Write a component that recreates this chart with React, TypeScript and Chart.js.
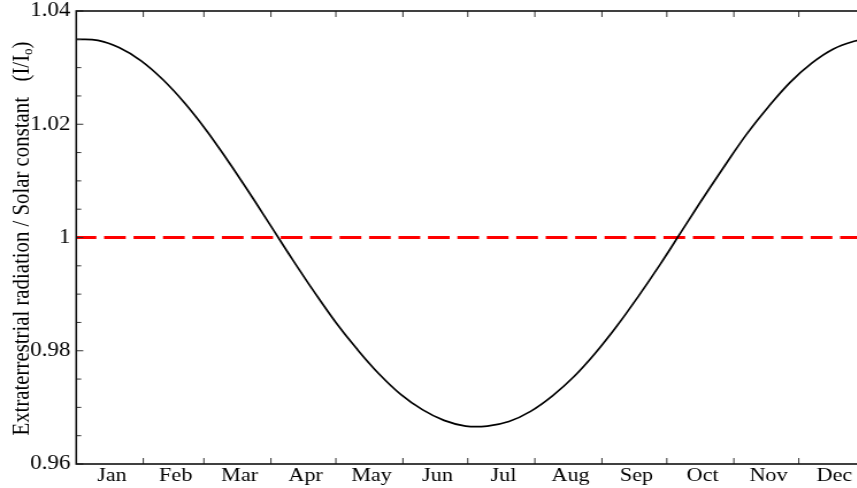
import React, { useEffect, useRef } from "react";
import { Chart, registerables } from "chart.js";

Chart.register(...registerables);

// Day of year (0-based) and ratio
const DAYS = [0, 10, 20, 30, 40, 50, 60, 70, 80, 90, 100, 110, 120, 130, 140, 150, 160, 170, 180, 190, 200, 210, 220, 230, 240, 250, 260, 270, 280, 290, 300, 310, 320, 330, 340, 350, 360, 365];
const RATIO = [1.035, 1.0348, 1.0335, 1.0312, 1.0279, 1.0238, 1.019, 1.0136, 1.0079, 1.002, 0.9961, 0.9904, 0.985, 0.9802, 0.9759, 0.9723, 0.9696, 0.9677, 0.9667, 0.9667, 0.9675, 0.9693, 0.972, 0.9754, 0.9796, 0.9844, 0.9897, 0.9953, 1.0012, 1.0071, 1.0128, 1.0183, 1.0231, 1.0274, 1.0308, 1.0333, 1.0347, 1.035];

const REF_DAYS = [0, 365];
const REF_VALUES = [1, 1];

const MONTHS = ["Jan", "Feb", "Mar", "Apr", "May", "Jun", "Jul", "Aug", "Sep", "Oct", "Nov", "Dec"];
const LABEL_DAYS = [16.5, 46, 75.5, 106, 136.5, 167, 197.5, 228.5, 259, 289.5, 320, 350.5];
const MONTH_BOUNDARIES = [31, 59, 90, 120, 151, 181, 212, 243, 273, 304, 334];

const Y_MAJOR = [0.96, 0.98, 1, 1.02, 1.04];
const Y_MINOR = [0.965, 0.97, 0.975, 0.985, 0.99, 0.995, 1.005, 1.01, 1.015, 1.025, 1.03, 1.035];

const Y_TITLE_MAIN = "Extraterrestrial radiation / Solar constant   (I/I";
const Y_TITLE_SUB = "o";
const Y_TITLE_END = ")";

const SX = 1.15;
const CW = 760;
const CH = 488;
const FONT = "'Liberation Serif', 'Times New Roman', serif";

const framePlugin = {
  id: "frameTicks",
  afterDatasetsDraw(chart: any) {
    const { ctx, chartArea: a, scales } = chart;
    const xs = scales.x;
    const ys = scales.y;
    ctx.save();
    ctx.strokeStyle = "#333";
    ctx.lineWidth = 1;
    ctx.beginPath();
    for (const d of MONTH_BOUNDARIES) {
      const px = xs.getPixelForValue(d);
      ctx.moveTo(px, a.bottom);
      ctx.lineTo(px, a.bottom - 6);
      ctx.moveTo(px, a.top);
      ctx.lineTo(px, a.top + 6);
    }
    for (const v of Y_MAJOR) {
      const py = ys.getPixelForValue(v);
      ctx.moveTo(a.left, py);
      ctx.lineTo(a.left + 6.1, py);
      ctx.moveTo(a.right, py);
      ctx.lineTo(a.right - 6.1, py);
    }
    for (const v of Y_MINOR) {
      const py = ys.getPixelForValue(v);
      ctx.moveTo(a.left, py);
      ctx.lineTo(a.left + 4.3, py);
      ctx.moveTo(a.right, py);
      ctx.lineTo(a.right - 4.3, py);
    }
    ctx.stroke();

    ctx.strokeStyle = "#111";
    ctx.lineWidth = 1.6;
    ctx.strokeRect(a.left, a.top, a.right - a.left, a.bottom - a.top);

    // rotated y-axis title with subscript
    ctx.translate(24.6, (a.top + a.bottom) / 2 + 1);
    ctx.rotate(-Math.PI / 2);
    ctx.fillStyle = "#000";
    ctx.textAlign = "left";
    ctx.textBaseline = "alphabetic";
    const big = "20.8px " + FONT;
    const small = "13px " + FONT;
    ctx.font = big;
    const w1 = ctx.measureText(Y_TITLE_MAIN).width;
    const w3 = ctx.measureText(Y_TITLE_END).width;
    ctx.font = small;
    const w2 = ctx.measureText(Y_TITLE_SUB).width;
    let cx = -(w1 + w2 + w3) / 2;
    ctx.font = big;
    ctx.fillText(Y_TITLE_MAIN, cx, 0);
    cx += w1;
    ctx.font = small;
    ctx.fillText(Y_TITLE_SUB, cx, 3);
    cx += w2;
    ctx.font = big;
    ctx.fillText(Y_TITLE_END, cx, 0);
    ctx.restore();
  },
};

export default function App() {
  const ref = useRef<HTMLCanvasElement | null>(null);

  useEffect(() => {
    if (!ref.current) return;
    const chart = new Chart(ref.current, {
      type: "line",
      data: {
        datasets: [
          {
            data: DAYS.map((d, i) => ({ x: d, y: RATIO[i] })),
            borderColor: "#000000",
            borderWidth: 1.7,
            pointRadius: 0,
            tension: 0.4,
            fill: false,
          },
          {
            data: REF_DAYS.map((d, i) => ({ x: d, y: REF_VALUES[i] })),
            borderColor: "#ff0000",
            borderWidth: 3,
            borderDash: [18.9, 6.7],
            borderDashOffset: 1.4,
            pointRadius: 0,
            fill: false,
          },
        ],
      },
      options: {
        animation: false,
        responsive: false,
        devicePixelRatio: 1,
        layout: { padding: { top: 11, right: 7.1, bottom: 0, left: 0 } },
        plugins: { legend: { display: false }, tooltip: { enabled: false } },
        scales: {
          x: {
            type: "linear",
            min: 0,
            max: 365,
            grid: { display: false, drawTicks: false },
            border: { display: false },
            afterBuildTicks: (s: any) => {
              s.ticks = LABEL_DAYS.map((v) => ({ value: v }));
            },
            afterFit: (s: any) => {
              s.height = 24;
              s.paddingLeft = 0;
              s.paddingRight = 0;
            },
            ticks: {
              autoSkip: false,
              maxRotation: 0,
              minRotation: 0,
              padding: 0.5,
              color: "#000",
              font: { family: FONT, size: 19.3 },
              callback: (v: any) => {
                const i = LABEL_DAYS.indexOf(Number(v));
                return i >= 0 ? MONTHS[i] : "";
              },
            },
          },
          y: {
            type: "linear",
            min: 0.96,
            max: 1.04,
            grid: { display: false, drawTicks: false },
            border: { display: false },
            afterBuildTicks: (s: any) => {
              s.ticks = Y_MAJOR.map((v) => ({ value: v }));
            },
            afterFit: (s: any) => {
              s.width = 66.3;
              s.paddingTop = 0;
              s.paddingBottom = 0;
            },
            ticks: {
              padding: 5,
              color: "#000",
              font: { family: FONT, size: 20 },
              callback: (v: any) => String(Number(Number(v).toFixed(2))),
            },
          },
        },
      },
      plugins: [framePlugin],
    } as any);
    return () => chart.destroy();
  }, []);

  return (
    <div
      style={{
        position: "fixed",
        left: 0,
        top: 0,
        width: 857,
        height: 488,
        overflow: "hidden",
        background: "#fff",
      }}
    >
      <canvas
        ref={ref}
        width={CW}
        height={CH}
        style={{ display: "block", width: CW * SX + "px", height: CH + "px" }}
      />
    </div>
  );
}
